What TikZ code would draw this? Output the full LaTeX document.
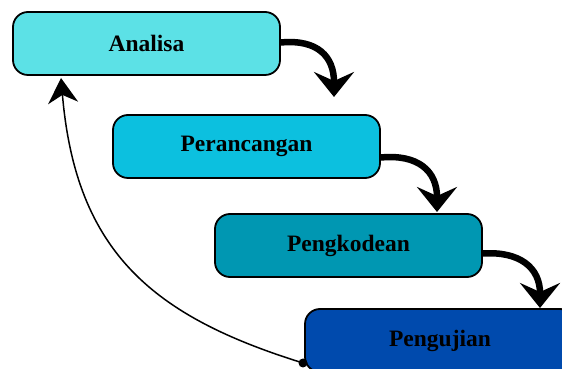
\documentclass[tikz,border=0pt]{standalone}
\usepackage{fontspec}
\setmainfont{Liberation Serif}
\usetikzlibrary{arrows.meta}
\definecolor{c1}{HTML}{5CE1E6}
\definecolor{c2}{HTML}{0CC0DF}
\definecolor{c3}{HTML}{0097B2}
\definecolor{c4}{HTML}{004AAD}
\begin{document}
\begin{tikzpicture}[x=1pt,y=1pt,
  phase/.style={draw=black, line width=1.8pt, rounded corners=15pt,
    minimum width=267pt, minimum height=63pt, inner sep=0pt,
    font=\fontsize{23.5}{27}\selectfont\bfseries},
  flow/.style={line width=6.5pt, -{Stealth[length=25pt,width=40pt,inset=9pt]}},
  back/.style={line width=1.5pt, -{Stealth[length=25pt,width=30pt,inset=8pt]}}]
\useasboundingbox (0,0) rectangle (562,369);
\begin{scope}
\clip (0,0) rectangle (562,369);
\node[phase, fill=c1] (a) at (146.5,325.5) {Analisa};
\node[phase, fill=c2] (b) at (246.5,222.5) {Perancangan};
\node[phase, fill=c3] (c) at (348.5,123.5) {Pengkodean};
\node[phase, fill=c4, minimum width=270pt] (d) at (440,28.5) {Pengujian};
\end{scope}
\coordinate (t1) at (334,272);
\coordinate (t2) at (437,157);
\coordinate (t3) at (540,61);
\coordinate (dot) at (303,6);
\coordinate (top) at (61,291);
\draw[flow] ([yshift=1pt]a.east) .. controls (318,330) and (334,312) .. (t1);
\draw[flow] ([yshift=-11pt]b.east) .. controls (418,215) and (437,198) .. (t2);
\draw[flow] ([yshift=-8pt]c.east) .. controls (520,118) and (540,101) .. (t3);
\draw[back] (dot) .. controls (155,52) and (76,115) .. (top);
\fill (dot) circle (4.5pt);
\end{tikzpicture}
\end{document}
